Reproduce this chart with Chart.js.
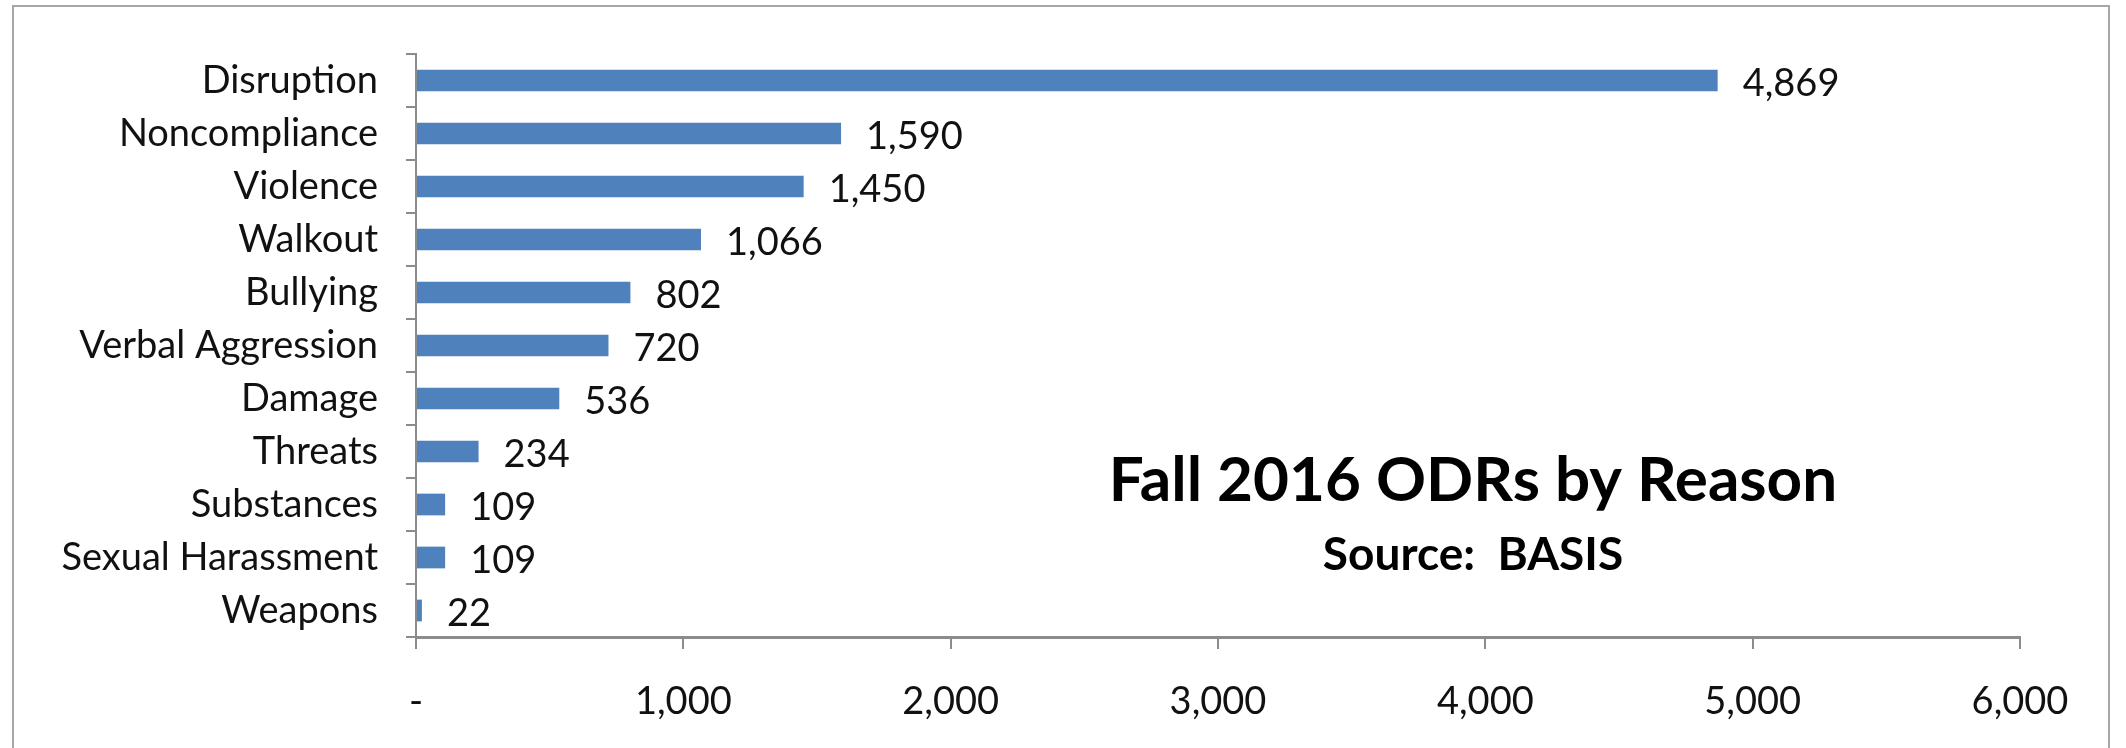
<!doctype html>
<html lang="en">
<head>
  <meta charset="utf-8">
  <script src="https://cdn.jsdelivr.net/npm/chart.js@4/dist/chart.umd.min.js"></script>
  <style>
    html, body { margin: 0; padding: 0; background: #fff; }
    .wrap { position: relative; width: 2126px; height: 748px; overflow: hidden; }
    .frame { position: absolute; left: 12px; top: 5px; width: 2098px; height: 800px; border: 2px solid #a6a6a6; box-sizing: border-box; }
    canvas { position: absolute; left: 0; top: 0; }
  </style>
</head>
<body>
<div class="wrap">
  <div class="frame"></div>
  <canvas id="chart" width="2126" height="748"></canvas>
</div>
<script>
  // data
  const reasons = ['Disruption', 'Noncompliance', 'Violence', 'Walkout', 'Bullying', 'Verbal Aggression',
    'Damage', 'Threats', 'Substances', 'Sexual Harassment', 'Weapons'];
  const counts = [4869, 1590, 1450, 1066, 802, 720, 536, 234, 109, 109, 22];
  const xTicks = [0, 1000, 2000, 3000, 4000, 5000, 6000];

  const FONT = 'Lato, "Open Sans", sans-serif';
  const fmt = v => v === 0 ? '-' : v.toLocaleString('en-US');

  // value labels to the right of each bar
  const valueLabels = {
    id: 'valueLabels',
    afterDatasetsDraw(chart) {
      const ctx = chart.ctx;
      const meta = chart.getDatasetMeta(0);
      ctx.save();
      ctx.font = '38px ' + FONT;
      ctx.fillStyle = '#111';
      ctx.textAlign = 'left';
      ctx.textBaseline = 'middle';
      meta.data.forEach((bar, i) => {
        ctx.fillText(fmt(counts[i]), bar.x + 25, bar.y + 3);
      });
      ctx.restore();
    }
  };

  // title block sitting inside the plot area
  const innerTitle = {
    id: 'innerTitle',
    afterDraw(chart) {
      const ctx = chart.ctx;
      const a = chart.chartArea;
      const cx = a.left + (a.right - a.left) * 0.659;
      ctx.save();
      ctx.fillStyle = '#000';
      ctx.textAlign = 'center';
      ctx.textBaseline = 'middle';
      ctx.font = 'bold 62px ' + FONT;
      ctx.fillText('Fall 2016 ODRs by Reason', cx, a.top + 427);
      ctx.font = 'bold 46px ' + FONT;
      ctx.fillText('Source:  BASIS', cx, a.top + 501);
      ctx.restore();
    }
  };

  new Chart(document.getElementById('chart'), {
    type: 'bar',
    data: {
      labels: reasons,
      datasets: [{
        data: counts,
        backgroundColor: '#4f81bd',
        barPercentage: 0.41,
        categoryPercentage: 1
      }]
    },
    options: {
      responsive: false,
      animation: false,
      indexAxis: 'y',
      layout: { padding: { top: 54, right: 106, left: 0, bottom: 0 } },
      plugins: { legend: { display: false }, tooltip: { enabled: false } },
      scales: {
        x: {
          min: 0,
          max: 6000,
          afterBuildTicks(scale) { scale.ticks = xTicks.map(v => ({ value: v })); },
          afterFit(scale) { scale.height = 111; },
          border: { color: '#8c8c8c', width: 3 },
          grid: { drawOnChartArea: false, color: '#8c8c8c', lineWidth: 2, tickLength: 12 },
          ticks: { color: '#111', padding: 30, font: { family: FONT, size: 38 }, callback: v => fmt(v), maxRotation: 0 }
        },
        y: {
          afterFit(scale) { scale.width = 416; },
          border: { color: '#8c8c8c', width: 2 },
          grid: { drawOnChartArea: false, color: '#8c8c8c', lineWidth: 2, tickLength: 10, offset: true },
          ticks: { color: '#111', padding: 28, font: { family: FONT, size: 38 } }
        }
      }
    },
    plugins: [valueLabels, innerTitle]
  });
</script>
</body>
</html>
